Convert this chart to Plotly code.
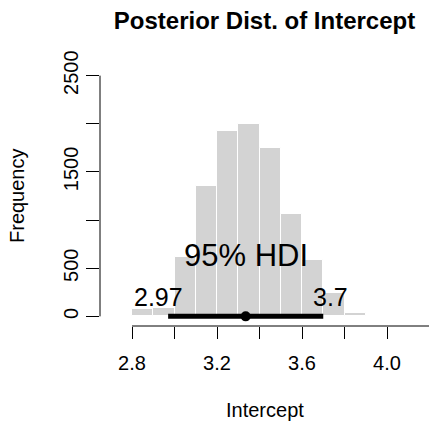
import numpy as np
import plotly.graph_objects as go

# ---- data ----
bin_centers = [2.85, 2.95, 3.05, 3.15, 3.25, 3.35, 3.45, 3.55, 3.65, 3.75, 3.85]
bin_counts = [75, 85, 612, 1359, 1926, 1998, 1752, 1062, 588, 246, 38]
bin_width = 0.1
hdi_low, hdi_high = 2.97, 3.70
post_center = 3.335
hdi_label = "95% HDI"
hdi_low_text = "2.97"
hdi_high_text = "3.7"
x_tick_vals = [2.8, 3.0, 3.2, 3.4, 3.6, 3.8, 4.0, 4.2]
x_tick_text = ["2.8", "", "3.2", "", "3.6", "", "4.0", ""]
y_tick_vals = [0, 500, 1000, 1500, 2000, 2500]
y_tick_text = ["0", "500", "", "1500", "", "2500"]

FONT = "Liberation Sans, Arial, Helvetica, sans-serif"
W, H = 429, 424
ml, mr, mt, mb = 100, 0, 66, 98
xr = [2.6494, 4.1976]
yr = [-100, 2600]

fig = go.Figure()
fig.add_trace(go.Bar(
    x=bin_centers, y=bin_counts, width=bin_width,
    marker=dict(color="#D3D3D3", line=dict(color="white", width=1)),
    hoverinfo="skip", showlegend=False))

fig.add_trace(go.Scatter(
    x=[hdi_low, hdi_high], y=[0, 0], mode="lines",
    line=dict(color="black", width=5), showlegend=False, hoverinfo="skip"))
fig.add_trace(go.Scatter(
    x=[post_center], y=[0], mode="markers",
    marker=dict(color="black", size=10), showlegend=False, hoverinfo="skip"))

def xpaper(v):
    return (v - xr[0]) / (xr[1] - xr[0])

def ypaper(v):
    return (v - yr[0]) / (yr[1] - yr[0])

# R-style axis lines (span first to last tick)
fig.add_shape(type="line", xref="paper", yref="paper",
              x0=xpaper(x_tick_vals[0]), x1=xpaper(x_tick_vals[-1]), y0=0, y1=0,
              line=dict(color="black", width=1))
fig.add_shape(type="line", xref="paper", yref="paper",
              x0=0, x1=0, y0=ypaper(y_tick_vals[0]), y1=ypaper(y_tick_vals[-1]),
              line=dict(color="black", width=1))

fig.add_annotation(x=(hdi_low + hdi_high) / 2, y=0, text=hdi_label, showarrow=False,
                   xanchor="center", yanchor="bottom", yshift=41,
                   font=dict(family=FONT, size=31, color="black"))
fig.add_annotation(x=hdi_low, y=0, text=hdi_low_text, showarrow=False,
                   xanchor="center", yanchor="bottom", xshift=-10, yshift=3,
                   font=dict(family=FONT, size=25, color="black"))
fig.add_annotation(x=hdi_high, y=0, text=hdi_high_text, showarrow=False,
                   xanchor="center", yanchor="bottom", xshift=7, yshift=3,
                   font=dict(family=FONT, size=25, color="black"))

fig.add_annotation(xref="paper", yref="paper", x=(17 - ml) / (W - ml - mr), y=0.5,
                   xanchor="center", yanchor="middle",
                   text="Frequency", textangle=-90, showarrow=False,
                   font=dict(family=FONT, size=20, color="black"))
fig.add_annotation(xref="paper", yref="paper", x=0.5, y=-(410 - (H - mb)) / (H - mt - mb),
                   xanchor="center", yanchor="middle",
                   text="Intercept", showarrow=False,
                   font=dict(family=FONT, size=20, color="black"))

fig.update_layout(
    width=W, height=H,
    margin=dict(l=ml, r=mr, t=mt, b=mb, pad=0),
    paper_bgcolor="white", plot_bgcolor="white",
    bargap=0,
    title=dict(text="<b>Posterior Dist. of Intercept</b>", x=0.5, xref="paper",
               y=1 - 21 / H, yref="container", yanchor="middle", xanchor="center",
               font=dict(family=FONT, size=24, color="black")),
    xaxis=dict(range=xr, tickvals=x_tick_vals, ticktext=x_tick_text,
               ticks="outside", ticklen=12, tickwidth=1, tickcolor="black",
               ticklabelstandoff=7,
               showline=False, showgrid=False, zeroline=False,
               tickfont=dict(family=FONT, size=20, color="black")),
    yaxis=dict(range=yr, tickvals=y_tick_vals, ticktext=y_tick_text,
               ticks="outside", ticklen=13, tickwidth=1, tickcolor="black",
               tickangle=-90,
               showline=False, showgrid=False, zeroline=False,
               tickfont=dict(family=FONT, size=20, color="black")),
)

fig.write_html("out.html")
